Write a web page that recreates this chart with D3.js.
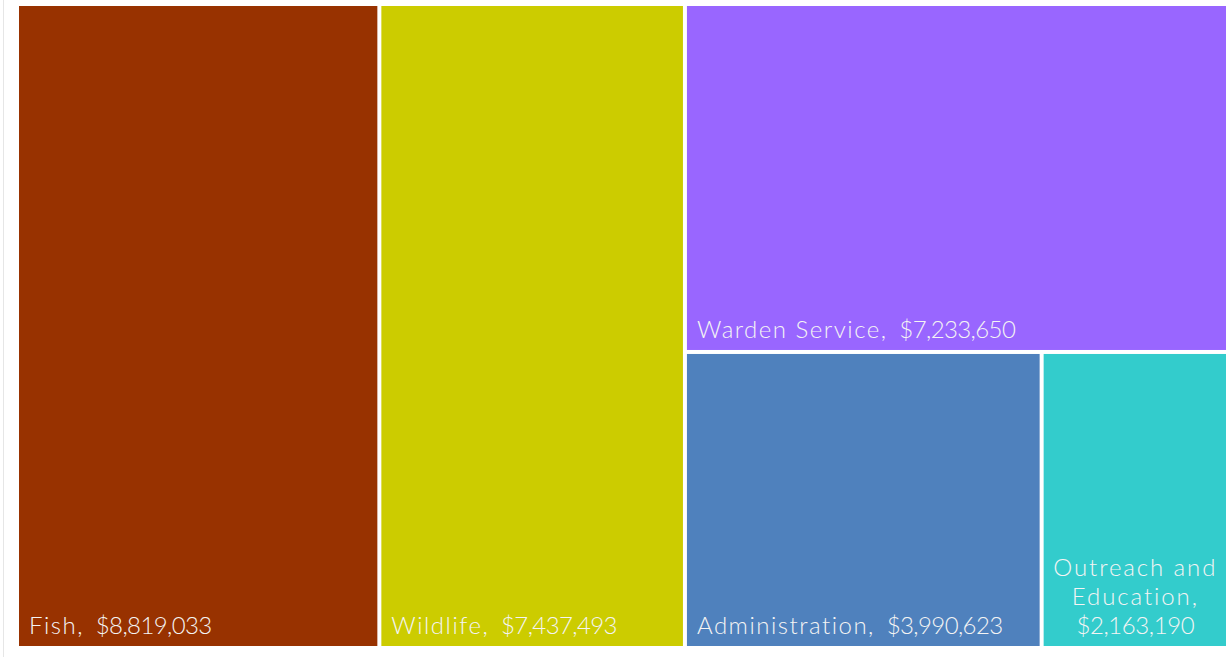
<!DOCTYPE html>
<html><head><meta charset="utf-8">
<script src="https://cdn.jsdelivr.net/npm/d3@7"></script>
<style>html,body{margin:0;padding:0;background:#fff;overflow:hidden}</style>
</head><body>
<svg id="c" width="1226" height="657"></svg>
<script>
const categories = ["Fish","Wildlife","Warden Service","Administration","Outreach and Education"];
const values = [8819033,7437493,7233650,3990623,2163190];
const colors = ["#983200","#cccc00","#9966ff","#4f81bd","#33cccc"];

const fmt = d3.format("$,");
const leaf = i => ({name: categories[i], value: values[i], color: colors[i]});
const tree = {name:"root", children:[leaf(0), leaf(1), {name:"g1", children:[leaf(2), {name:"g2", children:[leaf(3), leaf(4)]}]}]};

const svg = d3.select("#c");
svg.append("line").attr("x1",3.5).attr("x2",3.5).attr("y1",0).attr("y2",657).attr("stroke","#e6e6e6");

const root = d3.hierarchy(tree).sum(d => d.value || 0);
d3.treemap().tile(d3.treemapSliceDice).paddingInner(4).size([1214,640])(root);

const plot = svg.append("g").attr("transform","translate(19,6)");
const leaves = root.leaves();
const g = plot.selectAll("g.leaf").data(leaves).join("g").attr("class","leaf");
g.append("rect").attr("x",d=>d.x0).attr("y",d=>d.y0).attr("width",d=>d.x1-d.x0).attr("height",d=>d.y1-d.y0).attr("fill",d=>d.data.color);

const font = "Lato, 'DejaVu Sans', sans-serif";
g.each(function(d){
  const sel = d3.select(this);
  if (d.data.name === "Outreach and Education") {
    const lines = [["Outreach and",1.9],["Education,",1.9],[fmt(d.data.value),-0.4]];
    lines.forEach(([t,ls],i)=>{
      sel.append("text").attr("x",(d.x0+d.x1)/2 - 3).attr("y",d.y1-12-(lines.length-1-i)*29)
        .attr("text-anchor","middle").attr("fill","#f4f4f4").attr("font-family",font)
        .attr("font-weight",300).attr("font-size",24).attr("letter-spacing",ls).text(t);
    });
  } else {
    const t = sel.append("text").attr("x",d.x0+10).attr("y",d.y1-12).attr("fill","#f4f4f4")
      .attr("font-family",font).attr("font-weight",300).attr("font-size",24);
    t.append("tspan").attr("letter-spacing",1.5).text(d.data.name + ",");
    t.append("tspan").attr("letter-spacing",-0.6).text("\u00a0\u00a0" + fmt(d.data.value));
  }
});
</script>
</body></html>
